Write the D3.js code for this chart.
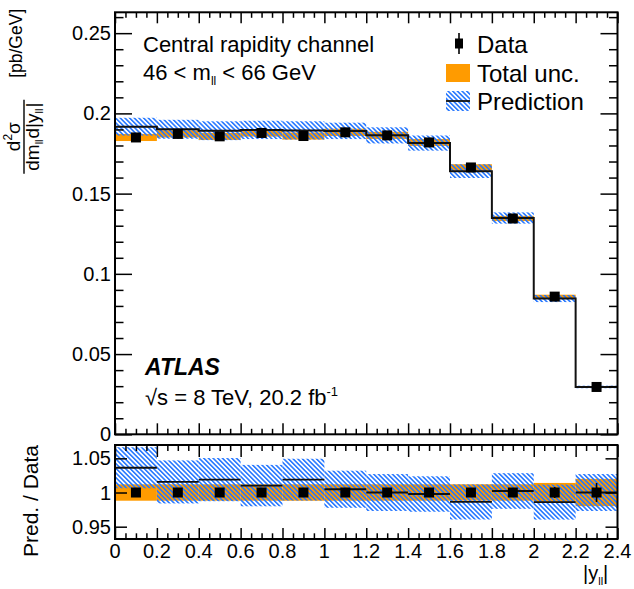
<!DOCTYPE html>
<html>
<head>
<meta charset="utf-8">
<script src="https://cdn.jsdelivr.net/npm/d3@7/dist/d3.min.js"></script>
<style>
  body { margin: 0; background: #fff; }
  svg { display: block; }
  text { font-family: "Liberation Sans", Arial, Helvetica, sans-serif; fill: #000; }
</style>
</head>
<body>
<svg id="chart" width="634" height="589"></svg>
<script>
// |y_ll| bin edges (12 bins of width 0.2)
const binEdges = [0, 0.2, 0.4, 0.6, 0.8, 1.0, 1.2, 1.4, 1.6, 1.8, 2.0, 2.2, 2.4];

// Measured cross section d2sigma/dm dy [pb/GeV]
const dataValues = [0.1850, 0.1872, 0.1857, 0.1878, 0.1859, 0.1882, 0.1863, 0.1819, 0.1663, 0.1345, 0.0858, 0.0295];
// Relative statistical uncertainty of the data points
const dataStatRel = [0.004, 0.004, 0.004, 0.004, 0.004, 0.004, 0.004, 0.004, 0.005, 0.006, 0.008, 0.014];
// Relative total uncertainty of the measurement
const totalUncRel = [0.012, 0.012, 0.012, 0.012, 0.012, 0.012, 0.012, 0.012, 0.012, 0.012, 0.014, 0.020];

// Theory prediction and its relative uncertainty
const predValues = [0.1917, 0.1901, 0.1892, 0.1897, 0.1894, 0.1891, 0.1863, 0.1815, 0.1640, 0.1348, 0.0846, 0.0295];
const predUncRel = [0.029, 0.031, 0.031, 0.030, 0.030, 0.027, 0.027, 0.026, 0.026, 0.026, 0.026, 0.027];

// Axis ticks
const xMajorTicks = [0, 0.2, 0.4, 0.6, 0.8, 1.0, 1.2, 1.4, 1.6, 1.8, 2.0, 2.2, 2.4];
const mainYMajorTicks = [0, 0.05, 0.1, 0.15, 0.2, 0.25];
const ratioYTicks = [0.95, 1, 1.05];

const ORANGE = "#ff9b00";
const BLUE = "#2476ff";

const svg = d3.select("#chart");

const bins = dataValues.map((v, i) => ({
  x0: binEdges[i], x1: binEdges[i + 1],
  data: v, stat: dataStatRel[i], tot: totalUncRel[i],
  pred: predValues[i], pu: predUncRel[i]
}));

// Scales
const x = d3.scaleLinear().domain([0, 2.4]).range([115, 617.5]);
const yMain = d3.scaleLinear().domain([0, 0.263]).range([434.3, 12.3]);
const yRatio = d3.scaleLinear().domain([0.932, 1.0695]).range([539, 445]);

// Hatch pattern for the prediction band
const defs = svg.append("defs");
const pat = defs.append("pattern")
  .attr("id", "hatch")
  .attr("patternUnits", "userSpaceOnUse")
  .attr("width", 3.3).attr("height", 10)
  .attr("patternTransform", "rotate(-45)");
pat.append("line")
  .attr("x1", 1.6).attr("y1", 0).attr("x2", 1.6).attr("y2", 10)
  .attr("stroke", BLUE).attr("stroke-width", 1.6);

defs.append("clipPath").attr("id", "clipMain").append("rect")
  .attr("x", x(0)).attr("y", yMain.range()[1])
  .attr("width", x(2.4) - x(0)).attr("height", yMain.range()[0] - yMain.range()[1]);
defs.append("clipPath").attr("id", "clipRatio").append("rect")
  .attr("x", x(0)).attr("y", yRatio.range()[1])
  .attr("width", x(2.4) - x(0)).attr("height", yRatio.range()[0] - yRatio.range()[1]);

// ---------- main panel ----------
const main = svg.append("g").attr("clip-path", "url(#clipMain)");

main.selectAll("rect.tot").data(bins).join("rect")
  .attr("class", "tot")
  .attr("x", d => x(d.x0)).attr("width", d => x(d.x1) - x(d.x0))
  .attr("y", d => yMain(d.data * (1 + d.tot)))
  .attr("height", d => yMain(d.data * (1 - d.tot)) - yMain(d.data * (1 + d.tot)))
  .attr("fill", ORANGE);

main.selectAll("rect.pu").data(bins).join("rect")
  .attr("class", "pu")
  .attr("x", d => x(d.x0)).attr("width", d => x(d.x1) - x(d.x0))
  .attr("y", d => yMain(d.pred * (1 + d.pu)))
  .attr("height", d => yMain(d.pred * (1 - d.pu)) - yMain(d.pred * (1 + d.pu)))
  .attr("fill", "url(#hatch)");

// prediction as a step histogram
const stepPts = [];
bins.forEach(d => { stepPts.push([d.x0, d.pred]); stepPts.push([d.x1, d.pred]); });
main.append("path")
  .attr("d", d3.line().x(p => x(p[0])).y(p => yMain(p[1]))(stepPts))
  .attr("fill", "none").attr("stroke", "#111").attr("stroke-width", 2);

// data points
main.selectAll("line.err").data(bins).join("line")
  .attr("class", "err")
  .attr("x1", d => x((d.x0 + d.x1) / 2)).attr("x2", d => x((d.x0 + d.x1) / 2))
  .attr("y1", d => yMain(d.data * (1 + d.stat))).attr("y2", d => yMain(d.data * (1 - d.stat)))
  .attr("stroke", "#000").attr("stroke-width", 1.6);
main.selectAll("rect.pt").data(bins).join("rect")
  .attr("class", "pt")
  .attr("x", d => x((d.x0 + d.x1) / 2) - 5).attr("y", d => yMain(d.data) - 5)
  .attr("width", 10).attr("height", 10).attr("fill", "#000");

// ---------- ratio panel ----------
const ratio = svg.append("g").attr("clip-path", "url(#clipRatio)");

ratio.selectAll("rect.tot").data(bins).join("rect")
  .attr("class", "tot")
  .attr("x", d => x(d.x0)).attr("width", d => x(d.x1) - x(d.x0))
  .attr("y", d => yRatio(1 + d.tot))
  .attr("height", d => yRatio(1 - d.tot) - yRatio(1 + d.tot))
  .attr("fill", ORANGE);

ratio.selectAll("rect.pu").data(bins).join("rect")
  .attr("class", "pu")
  .attr("x", d => x(d.x0)).attr("width", d => x(d.x1) - x(d.x0))
  .attr("y", d => yRatio(d.pred * (1 + d.pu) / d.data))
  .attr("height", d => yRatio(d.pred * (1 - d.pu) / d.data) - yRatio(d.pred * (1 + d.pu) / d.data))
  .attr("fill", "url(#hatch)");

ratio.selectAll("line.pred").data(bins).join("line")
  .attr("class", "pred")
  .attr("x1", d => x(d.x0)).attr("x2", d => x(d.x1))
  .attr("y1", d => yRatio(d.pred / d.data)).attr("y2", d => yRatio(d.pred / d.data))
  .attr("stroke", "#111").attr("stroke-width", 1.8);

ratio.selectAll("line.err").data(bins).join("line")
  .attr("class", "err")
  .attr("x1", d => x((d.x0 + d.x1) / 2)).attr("x2", d => x((d.x0 + d.x1) / 2))
  .attr("y1", d => yRatio(1 + d.stat)).attr("y2", d => yRatio(1 - d.stat))
  .attr("stroke", "#000").attr("stroke-width", 1.6);
ratio.selectAll("rect.pt").data(bins).join("rect")
  .attr("class", "pt")
  .attr("x", d => x((d.x0 + d.x1) / 2) - 5).attr("y", d => yRatio(1) - 5)
  .attr("width", 10).attr("height", 10).attr("fill", "#000");

// ---------- axes & frames ----------
const xMinor = d3.range(0, 2.4001, 0.05).map(v => +v.toFixed(2)).filter(v => !xMajorTicks.some(t => Math.abs(t - v) < 1e-6));
const mainYMinor = d3.range(0, 0.2601, 0.01).map(v => +v.toFixed(2)).filter(v => !mainYMajorTicks.some(t => Math.abs(t - v) < 1e-6));

function inwardTicks(axisFn, scale, values, size, transform) {
  const g = svg.append("g").attr("transform", transform)
    .call(axisFn(scale).tickValues(values).tickSize(-size).tickFormat(""));
  g.select(".domain").remove();
  g.selectAll(".tick line").attr("stroke", "#000").attr("stroke-width", 1.5);
  return g;
}

// main panel ticks
inwardTicks(d3.axisBottom, x, xMajorTicks, 11, `translate(0,${yMain.range()[0]})`);
inwardTicks(d3.axisBottom, x, xMinor, 5.5, `translate(0,${yMain.range()[0]})`);
inwardTicks(d3.axisTop, x, xMajorTicks, 11, `translate(0,${yMain.range()[1]})`);
inwardTicks(d3.axisTop, x, xMinor, 5.5, `translate(0,${yMain.range()[1]})`);
inwardTicks(d3.axisLeft, yMain, mainYMajorTicks, 17, `translate(${x(0)},0)`);
inwardTicks(d3.axisLeft, yMain, mainYMinor, 8.5, `translate(${x(0)},0)`);
inwardTicks(d3.axisRight, yMain, mainYMajorTicks, 17, `translate(${x(2.4)},0)`);
inwardTicks(d3.axisRight, yMain, mainYMinor, 8.5, `translate(${x(2.4)},0)`);

// ratio panel ticks
inwardTicks(d3.axisBottom, x, xMajorTicks, 11, `translate(0,${yRatio.range()[0]})`);
inwardTicks(d3.axisBottom, x, xMinor, 5.7, `translate(0,${yRatio.range()[0]})`);
inwardTicks(d3.axisTop, x, xMajorTicks, 12, `translate(0,${yRatio.range()[1]})`);
inwardTicks(d3.axisTop, x, xMinor, 6, `translate(0,${yRatio.range()[1]})`);
inwardTicks(d3.axisLeft, yRatio, ratioYTicks, 12, `translate(${x(0)},0)`);
inwardTicks(d3.axisRight, yRatio, ratioYTicks, 12, `translate(${x(2.4)},0)`);

// frames
svg.append("rect")
  .attr("x", x(0)).attr("y", yMain.range()[1])
  .attr("width", x(2.4) - x(0)).attr("height", yMain.range()[0] - yMain.range()[1])
  .attr("fill", "none").attr("stroke", "#000").attr("stroke-width", 2);
svg.append("rect")
  .attr("x", x(0)).attr("y", yRatio.range()[1])
  .attr("width", x(2.4) - x(0)).attr("height", yRatio.range()[0] - yRatio.range()[1])
  .attr("fill", "none").attr("stroke", "#000").attr("stroke-width", 2);

// tick labels
const fmt = v => d3.format("~g")(v);
svg.append("g").selectAll("text").data(mainYMajorTicks).join("text")
  .attr("x", 111).attr("y", d => yMain(d) + 7)
  .attr("text-anchor", "end").attr("font-size", 20).text(fmt);
svg.append("g").selectAll("text").data(ratioYTicks).join("text")
  .attr("x", 111).attr("y", d => yRatio(d) + 7)
  .attr("text-anchor", "end").attr("font-size", 20).text(fmt);
svg.append("g").selectAll("text").data(xMajorTicks).join("text")
  .attr("x", d => x(d)).attr("y", 558)
  .attr("text-anchor", "middle").attr("font-size", 20).text(fmt);

// axis titles
const xt = svg.append("text").attr("x", 583).attr("y", 580).attr("font-size", 20);
xt.append("tspan").text("|y");
xt.append("tspan").attr("font-size", 11).attr("dy", 5).text("ll");
xt.append("tspan").attr("dy", -5).text("|");

svg.append("text")
  .attr("transform", "translate(38,501) rotate(-90)")
  .attr("text-anchor", "middle").attr("font-size", 21)
  .text("Pred. / Data");

const yl = svg.append("g").attr("transform", "translate(0,136.7) rotate(-90)");
const num = yl.append("text").attr("x", 0).attr("y", 20).attr("text-anchor", "middle").attr("font-size", 19);
num.append("tspan").text("d");
num.append("tspan").attr("font-size", 12).attr("dy", -8).text("2");
num.append("tspan").attr("dy", 8).text("σ");
yl.append("line").attr("x1", -37).attr("x2", 37).attr("y1", 24).attr("y2", 24)
  .attr("stroke", "#000").attr("stroke-width", 1.4);
const den = yl.append("text").attr("x", 0).attr("y", 39).attr("text-anchor", "middle").attr("font-size", 19);
den.append("tspan").text("dm");
den.append("tspan").attr("font-size", 11).attr("dy", 4).text("ll");
den.append("tspan").attr("dy", -4).attr("dx", 1).text("d|y");
den.append("tspan").attr("font-size", 11).attr("dy", 4).text("ll");
den.append("tspan").attr("dy", -4).attr("dx", 1).text("|");
svg.append("text")
  .attr("transform", "translate(22,43.3) rotate(-90)")
  .attr("text-anchor", "middle").attr("font-size", 17.5)
  .text("[pb/GeV]");

// ---------- annotations ----------
svg.append("text").attr("x", 143).attr("y", 52).attr("font-size", 22).text("Central rapidity channel");
const ml = svg.append("text").attr("x", 143).attr("y", 80).attr("font-size", 22);
ml.append("tspan").text("46 < m");
ml.append("tspan").attr("font-size", 12).attr("dy", 5).text("ll");
ml.append("tspan").attr("dy", -5).text(" < 66 GeV");

svg.append("text").attr("x", 145).attr("y", 375).attr("font-size", 23)
  .attr("font-weight", "bold").attr("font-style", "italic").text("ATLAS");
const lumi = svg.append("text").attr("x", 145).attr("y", 405).attr("font-size", 22);
lumi.append("tspan").text("√s = 8 TeV, 20.2 fb");
lumi.append("tspan").attr("font-size", 13).attr("dy", -9).text("-1");

// ---------- legend ----------
const lg = svg.append("g");
lg.append("line").attr("x1", 459).attr("x2", 459).attr("y1", 33).attr("y2", 54)
  .attr("stroke", "#000").attr("stroke-width", 1.6);
lg.append("rect").attr("x", 455).attr("y", 38.5).attr("width", 8).attr("height", 10).attr("fill", "#000");
lg.append("rect").attr("x", 446).attr("y", 64).attr("width", 24).attr("height", 18).attr("fill", ORANGE);
lg.append("rect").attr("x", 446).attr("y", 91).attr("width", 24).attr("height", 20).attr("fill", "url(#hatch)");
lg.append("line").attr("x1", 446).attr("x2", 470).attr("y1", 101).attr("y2", 101)
  .attr("stroke", "#111").attr("stroke-width", 1.8);
const legendLabels = ["Data", "Total unc.", "Prediction"];
const legendBase = [53, 81.5, 110];
lg.selectAll("text").data(legendLabels).join("text")
  .attr("x", 477).attr("y", (d, i) => legendBase[i]).attr("font-size", 24).text(d => d);
</script>
</body>
</html>
